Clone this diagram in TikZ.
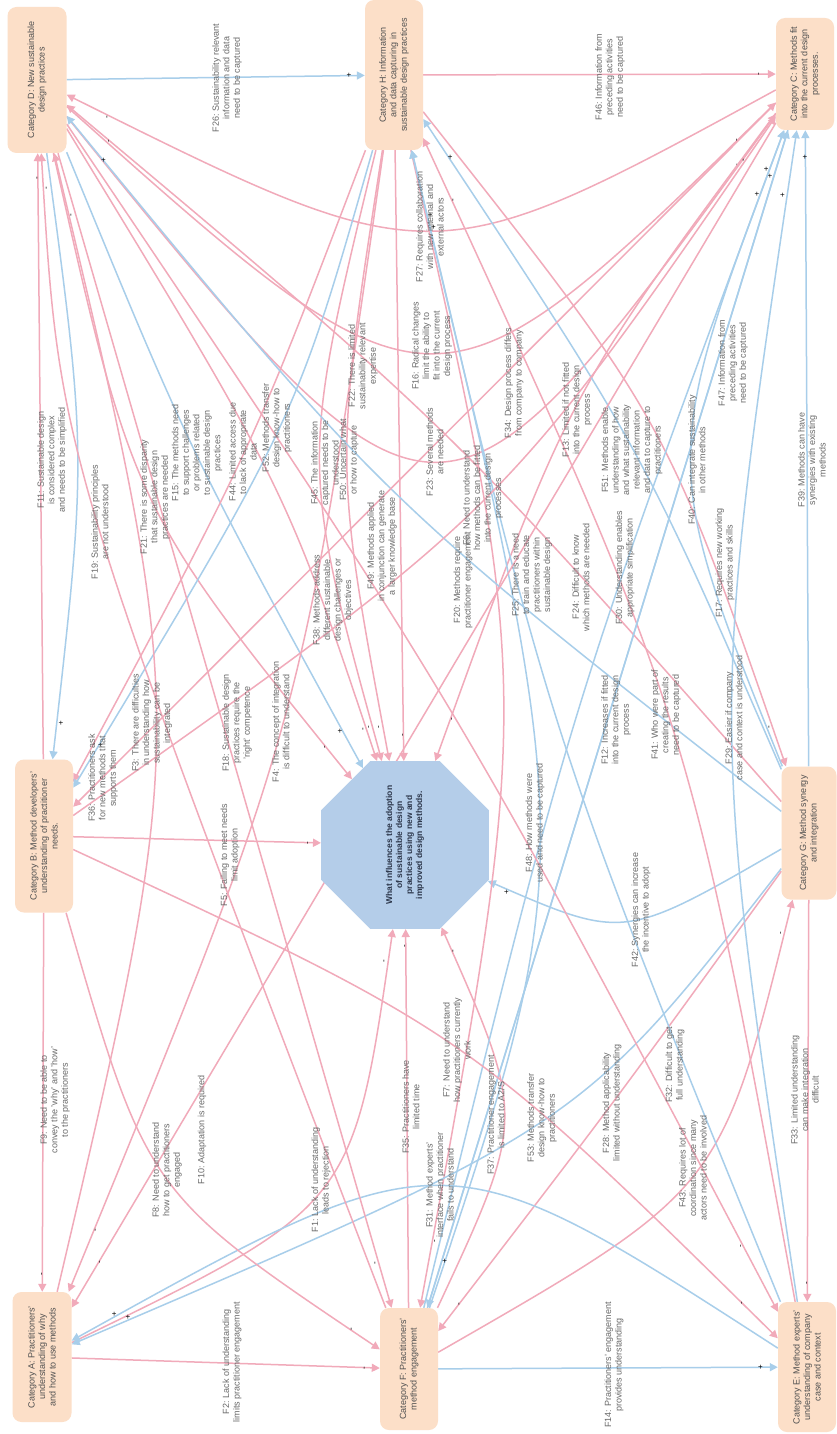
\documentclass[tikz,border=0pt]{standalone}
\usepackage{fontspec}
\setmainfont{Liberation Sans}
\usetikzlibrary{arrows.meta,shapes.geometric}
\definecolor{pinkL}{RGB}{241,170,186}
\definecolor{blueL}{RGB}{168,206,234}
\definecolor{catfill}{RGB}{252,223,200}
\definecolor{octfill}{RGB}{180,205,233}
\definecolor{cattext}{RGB}{80,80,80}
\definecolor{labtext}{RGB}{105,105,105}
\definecolor{octtext}{RGB}{45,55,75}
\pgfdeclarelayer{links}
\pgfsetlayers{links,main}
% straight and curved factor links, with the sign beside the arrow head
\newcommand\edgeS[4]{\draw[#1] (#2) -- (#3) node[sgn,pos=.965,auto]{#4};}
\newcommand\edgeC[5]{\draw[#1] (#2) .. controls (#4) .. (#3) node[sgn,pos=.965,auto]{#5};}
\begin{document}
\begin{tikzpicture}[x=1pt,y=-1pt,
  cat/.style={rotate=90, fill=catfill, rounded corners=9pt, text=cattext, align=center, inner sep=2pt, font=\fontsize{9}{10.5}\selectfont},
  oct/.style={regular polygon, regular polygon sides=8, minimum size=156pt, fill=octfill, inner sep=0pt, rotate=90, align=center, text=octtext, font=\fontsize{8.5}{10}\selectfont\bfseries},
  lab/.style={rotate=90, align=center, text=labtext, inner sep=1pt, font=\fontsize{9}{10.5}\selectfont},
  sgn/.style={rotate=90, font=\fontsize{8}{8}\selectfont, text=black, inner sep=2pt},
  pk/.style={draw=pinkL, line width=1.5pt, -{Triangle[length=8pt,width=8pt]}},
  bl/.style={draw=blueL, line width=1.5pt, -{Triangle[length=8pt,width=8pt]}},
]
\useasboundingbox (0,0) rectangle (836,1434);

% categories and the central question
\node[cat, minimum width=146pt, minimum height=59pt] (D) at (37,80) {Category D: New sustainable\\design practices};
\node[cat, minimum width=150pt, minimum height=58pt] (H) at (394,75) {Category H: Information\\and data capturing in\\sustainable design practices};
\node[cat, minimum width=112pt, minimum height=58pt] (C) at (805,74) {Category C: Methods fit\\into the current design\\processes.};
\node[cat, minimum width=153pt, minimum height=58pt] (B) at (44,836) {Category B: Method developers'\\understanding of practitioner\\needs.};
\node[oct] (O) at (405,845) {What influences the adoption\\of sustainable design\\practices using new and\\improved design methods.};
\node[cat, minimum width=133pt, minimum height=55pt] (G) at (809,833) {Category G: Method synergy\\and integration};
\node[cat, minimum width=130pt, minimum height=59pt] (A) at (42,1357) {Category A: Practitioners'\\understanding of why\\and how to use methods};
\node[cat, minimum width=122pt, minimum height=58pt] (F) at (409,1369) {Category F: Practitioners'\\method engagement};
\node[cat, minimum width=130pt, minimum height=58pt] (E) at (807,1367) {Category E: Method experts'\\understanding of company\\case and context};

\begin{pgfonlayer}{links}
\fill[white] (0,0) rectangle (836,1434);
\edgeS{bl}{D}{H}{+}
\edgeS{pk}{H}{C}{-}
\edgeC{pk}{C}{D}{433,277}{-}
\edgeC{pk}{D}{C}{436,436}{-}
\edgeC{pk}{D}{C}{440,577}{-}
\edgeS{pk}{B}{D}{-}
\edgeC{bl}{D}{B}{87,455}{+}
\edgeS{pk}{B}{A}{-}
\edgeS{pk}{B}{O}{-}
\edgeS{pk}{H}{O}{-}
\edgeC{pk}{H}{O}{300,464}{-}
\edgeC{pk}{H}{O}{334,464}{-}
\edgeC{bl}{D}{O}{189,450}{+}
\edgeC{pk}{D}{O}{133,508}{-}
\edgeC{pk}{D}{O}{286,488}{-}
\edgeS{pk}{F}{O}{-}
\edgeC{pk}{F}{O}{526,1118}{-}
\edgeC{bl}{G}{O}{624,940}{+}
\edgeC{pk}{C}{O}{568,393}{-}
\edgeC{pk}{A}{O}{353,1206}{-}
\edgeC{pk}{H}{B}{251,451}{-}
\edgeC{bl}{H}{B}{296,419}{+}
\edgeC{pk}{H}{A}{302,724}{-}
\edgeC{pk}{H}{F}{533,693}{-}
\edgeC{pk}{H}{G}{666,419}{-}
\edgeC{pk}{F}{G}{721,1190}{-}
\edgeS{bl}{G}{C}{+}
\edgeC{bl}{G}{C}{660,462}{+}
\edgeC{bl}{G}{H}{642,449}{+}
\edgeC{pk}{G}{D}{451,427}{-}
\edgeC{bl}{G}{D}{382,499}{+}
\edgeC{bl}{G}{A}{581,1126}{+}
\edgeC{pk}{G}{F}{613,1104}{-}
\edgeS{pk}{G}{E}{-}
\edgeC{bl}{E}{C}{710,717}{+}
\edgeC{bl}{E}{H}{550,737}{+}
\edgeC{pk}{E}{H}{688,713}{-}
\edgeC{bl}{E}{A}{445,1133}{+}
\edgeS{bl}{F}{E}{+}
\edgeS{bl}{F}{C}{+}
\edgeC{bl}{F}{C}{569,710}{+}
\edgeC{bl}{F}{H}{580,857}{+}
\edgeC{pk}{F}{D}{59,455}{-}
\edgeS{pk}{C}{B}{-}
\edgeS{pk}{C}{A}{-}
\edgeS{bl}{C}{F}{+}
\edgeC{pk}{B}{C}{503,512}{-}
\edgeC{pk}{B}{F}{147,1193}{-}
\edgeC{pk}{B}{E}{468,1033}{-}
\edgeS{pk}{D}{F}{-}
\edgeC{pk}{D}{E}{457,703}{-}
\edgeS{pk}{A}{F}{-}
\edgeC{pk}{A}{D}{190,725}{-}
\end{pgfonlayer}

% factor labels
\node[lab] (l26) at (227,78) {F26: Sustainability relevant\\information and data\\need to be captured};
\node[lab] (l46) at (610,77) {F46: Information from\\preceding activities\\need to be captured};
\node[lab] (l2) at (232,1362) {F2: Lack of understanding\\limits practitioner engagement};
\node[lab] (l14) at (614,1365) {F14: Practitioners' engagement\\provides understanding};
\node[lab] (l27) at (430,227) {F27: Requires collaboration\\with new internal and\\external actors};
\node[lab] (l16) at (432,346) {F16: Radical changes\\limit the ability to\\fit into the current\\design process};
\node[lab] (l22) at (363,366) {F22: There is limited\\sustainability relevant\\expertise};
\node[lab] (l23) at (435,452) {F23: Several methods\\are needed};
\node[lab] (l52) at (277,428) {F52: Methods transfer\\design know-how to\\practitioners};
\node[lab] (l44) at (243,452) {F44: Limited access due\\to lack of appropriate\\data};
\node[lab] (l15) at (197,453) {F15: The methods need\\to support challenges\\or problems related\\to sustainable design\\practices};
\node[lab] (l21) at (155,497) {F21: There is some disparity\\that sustainable design\\practices are needed};
\node[lab] (l19) at (100,522) {F19: Sustainability principles\\are not understood};
\node[lab] (l11) at (52,460) {F11: Sustainable design\\is considered complex\\and needs to be simplified};
\node[lab] (l45) at (325,463) {F45: The information\\captured needs to be\\understood};
\node[lab] (l50) at (349,460) {F50: Uncertain what\\or how to capture};
\node[lab] (l49) at (382,546) {F49: Methods applied\\in conjunction can generate\\a larger knowledge base};
\node[lab] (l38) at (333,600) {F38: Methods address\\different sustainable\\design challenges or\\objectives};
\node[lab] (l34) at (514,383) {F34: Design process differs\\from company to company};
\node[lab] (l13) at (577,410) {F13: Limited if not fitted\\into the current design\\process};
\node[lab] (l6) at (483,498) {F6: Need to understand\\how methods can be fitted\\into the current design\\processes};
\node[lab] (l51) at (632,450) {F51: Methods enable\\understanding of how\\and what sustainability\\relevant information\\and data to capture to\\practitioners};
\node[lab] (l40) at (697,460) {F40: Can integrate sustainability\\in other methods};
\node[lab] (l47) at (733,363) {F47: Information from\\preceding activities\\need to be captured};
\node[lab] (l39) at (812,460) {F39: Methods can have\\synergies with existing\\methods};
\node[lab] (l17) at (725,563) {F17: Requires new working\\practices and skills};
\node[lab] (l30) at (625,568) {F30: Understanding enables\\appropriate simplification};
\node[lab] (l24) at (581,577) {F24: Difficult to know\\which methods are needed};
\node[lab] (l25) at (532,575) {F25: There is a need\\to train and educate\\practitioners within\\sustainable design};
\node[lab] (l20) at (463,580) {F20: Methods require\\practitioner engagement};
\node[lab] (l12) at (616,720) {F12: Increases if fitted\\into the current design\\process};
\node[lab] (l41) at (666,715) {F41: Who were part of\\creating the results\\need to be captured};
\node[lab] (l29) at (734,718) {F29: Easier if company\\case and context is understood};
\node[lab] (l36) at (103,778) {F36: Practitioners ask\\for new methods that\\supports them};
\node[lab] (l3) at (152,723) {F3: There are difficulties\\in understanding how\\sustainability can be\\integrated};
\node[lab] (l18) at (237,723) {F18: Sustainable design\\practices require the\\'right' competence};
\node[lab] (l4) at (281,722) {F4: The concept of integration\\is difficult to understand};
\node[lab] (l5) at (230,855) {F5: Failing to meet needs\\limit adoption};
\node[lab] (l9) at (55,1100) {F9: Need to be able to\\convey the 'why' and 'how'\\to the practitioners};
\node[lab] (l8) at (167,1170) {F8: Need to understand\\how to get practitioners\\engaged};
\node[lab] (l10) at (202,1130) {F10: Adaptation is required};
\node[lab] (l1) at (321,1180) {F1: Lack of understanding\\leads to rejection};
\node[lab] (l35) at (411,1107) {F35: Practitioners have\\limited time};
\node[lab] (l7) at (457,1050) {F7: Need to understand\\how practitioners currently\\work};
\node[lab] (l37) at (496,1115) {F37: Practitioner engagement\\is limited to A2/S};
\node[lab] (l31) at (440,1185) {F31: Method experts'\\interface when practitioner\\fails to understand};
\node[lab] (l53) at (542,1118) {F53: Methods transfer\\design know-how to\\practitioners};
\node[lab] (l28) at (612,1103) {F28: Method applicability\\limited without understanding};
\node[lab] (l32) at (675,1065) {F32: Difficult to get\\full understanding};
\node[lab] (l43) at (693,1168) {F43: Requires lot of\\coordination since many\\actors need to be involved};
\node[lab] (l42) at (641,910) {F42: Synergies can increase\\the incentive to adopt};
\node[lab] (l48) at (535,823) {F48: How methods were\\used and need to be captured};
\node[lab] (l33) at (805,1090) {F33: Limited understanding\\can make integration\\difficult};
\end{tikzpicture}
\end{document}
